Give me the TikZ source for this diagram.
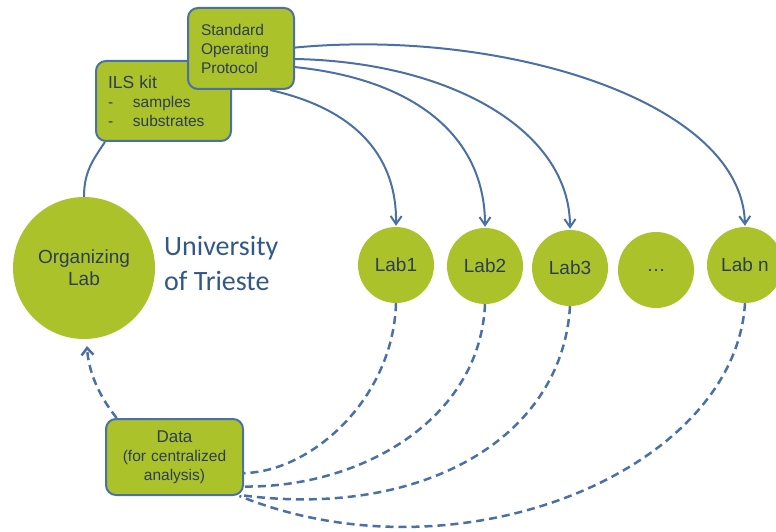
\documentclass[tikz,border=0pt]{standalone}
\usepackage{fontspec}
\setmainfont{Liberation Sans}
\newfontfamily\unifont{Carlito}
\usetikzlibrary{arrows.meta}
\definecolor{leaf}{RGB}{172,194,43}
\definecolor{edge}{RGB}{74,112,165}
\definecolor{ink}{RGB}{45,62,82}
\definecolor{uni}{RGB}{50,88,136}

\begin{document}
\begin{tikzpicture}[x=1pt,y=-1pt,
  box/.style={draw=edge, line width=2pt, fill=leaf, rounded corners=10pt,
    text=ink, inner ysep=0pt},
  lab/.style={circle, fill=leaf, minimum size=76pt, inner sep=0pt, text=ink,
    font=\fontsize{19}{22}\selectfont},
  flow/.style={draw=edge, line width=2pt,
    -{Straight Barb[length=8pt,width=11pt]}, shorten >=1pt},
  back/.style={draw=edge, line width=2.5pt, dash pattern=on 8pt off 5pt},
  txt/.style={font=\fontsize{15.5}{19}\selectfont}
]
\useasboundingbox (0,0) rectangle (776,532);

% kit box (under the protocol box)
\node[box, txt, anchor=north west, text width=111pt, inner xsep=12pt,
  minimum height=80pt, align=left] (ils) at (95,60)
  {{\fontsize{17.5}{19}\selectfont ILS kit}\\
   \makebox[25pt][l]{-}samples\\
   \makebox[25pt][l]{-}substrates};

% protocol box
\node[box, txt, anchor=north west, text width=80pt, inner xsep=13pt,
  minimum height=81pt, align=left] (sop) at (187,7)
  {Standard\\Operating\\Protocol};

% data box
\node[box, txt, anchor=north west, text width=127pt, inner xsep=5pt,
  minimum height=76pt, align=center] (data) at (105,418)
  {{\fontsize{17}{20}\selectfont Data}\\(for centralized\\analysis)};

% organizing lab
\node[circle, fill=leaf, minimum size=142pt, inner sep=0pt, text=ink,
  font=\fontsize{19}{22}\selectfont, align=center] (org) at (84,268)
  {Organizing\\Lab};
\node[anchor=west, text=uni, align=left, inner sep=0pt,
  font=\unifont\fontsize{28}{35}\selectfont] (uni) at (164,263)
  {University\\of Trieste};

% participating labs
\node[lab] (lab1) at (396,265) {Lab1};
\node[lab] (lab2) at (485,266) {Lab2};
\node[lab] (lab3) at (570,268) {Lab3};
\node[lab] (labd) at (656,270) {\dots};
\node[lab] (labn) at (745,265) {Lab n};

% kit sent to organizing lab
\draw[draw=edge, line width=2pt] (ils.-145) .. controls +(-12,18) and +(0,-25) .. (org.north);

% protocol distributed to labs
\draw[flow] (sop.-55) .. controls (360,110) and (397,160) .. (lab1.north);
\draw[flow] (sop.-19) .. controls (420,80) and (485,140) .. (lab2.north);
\draw[flow] (sop.-11) .. controls (450,62) and (570,130) .. (lab3.north);
\draw[flow] (sop.1) .. controls (500,28) and (742,100) .. (labn.north);

% results returned for analysis
\draw[back] (lab1.south) .. controls (393,400) and (310,472) .. (data.-13);
\draw[back] (lab2.south) .. controls (480,420) and (360,488) .. (data.-23);
\draw[back] (lab3.south) .. controls (562,440) and (420,518) .. (data.-29);
\draw[back] (labn.south) .. controls (735,470) and (460,585) .. (data.-31);
\draw[back, -{Straight Barb[length=7pt,width=12pt]}, shorten >=7pt]
  (data.146) .. controls +(-20,-25) and +(2,30) .. (org.-88);
\end{tikzpicture}
\end{document}
